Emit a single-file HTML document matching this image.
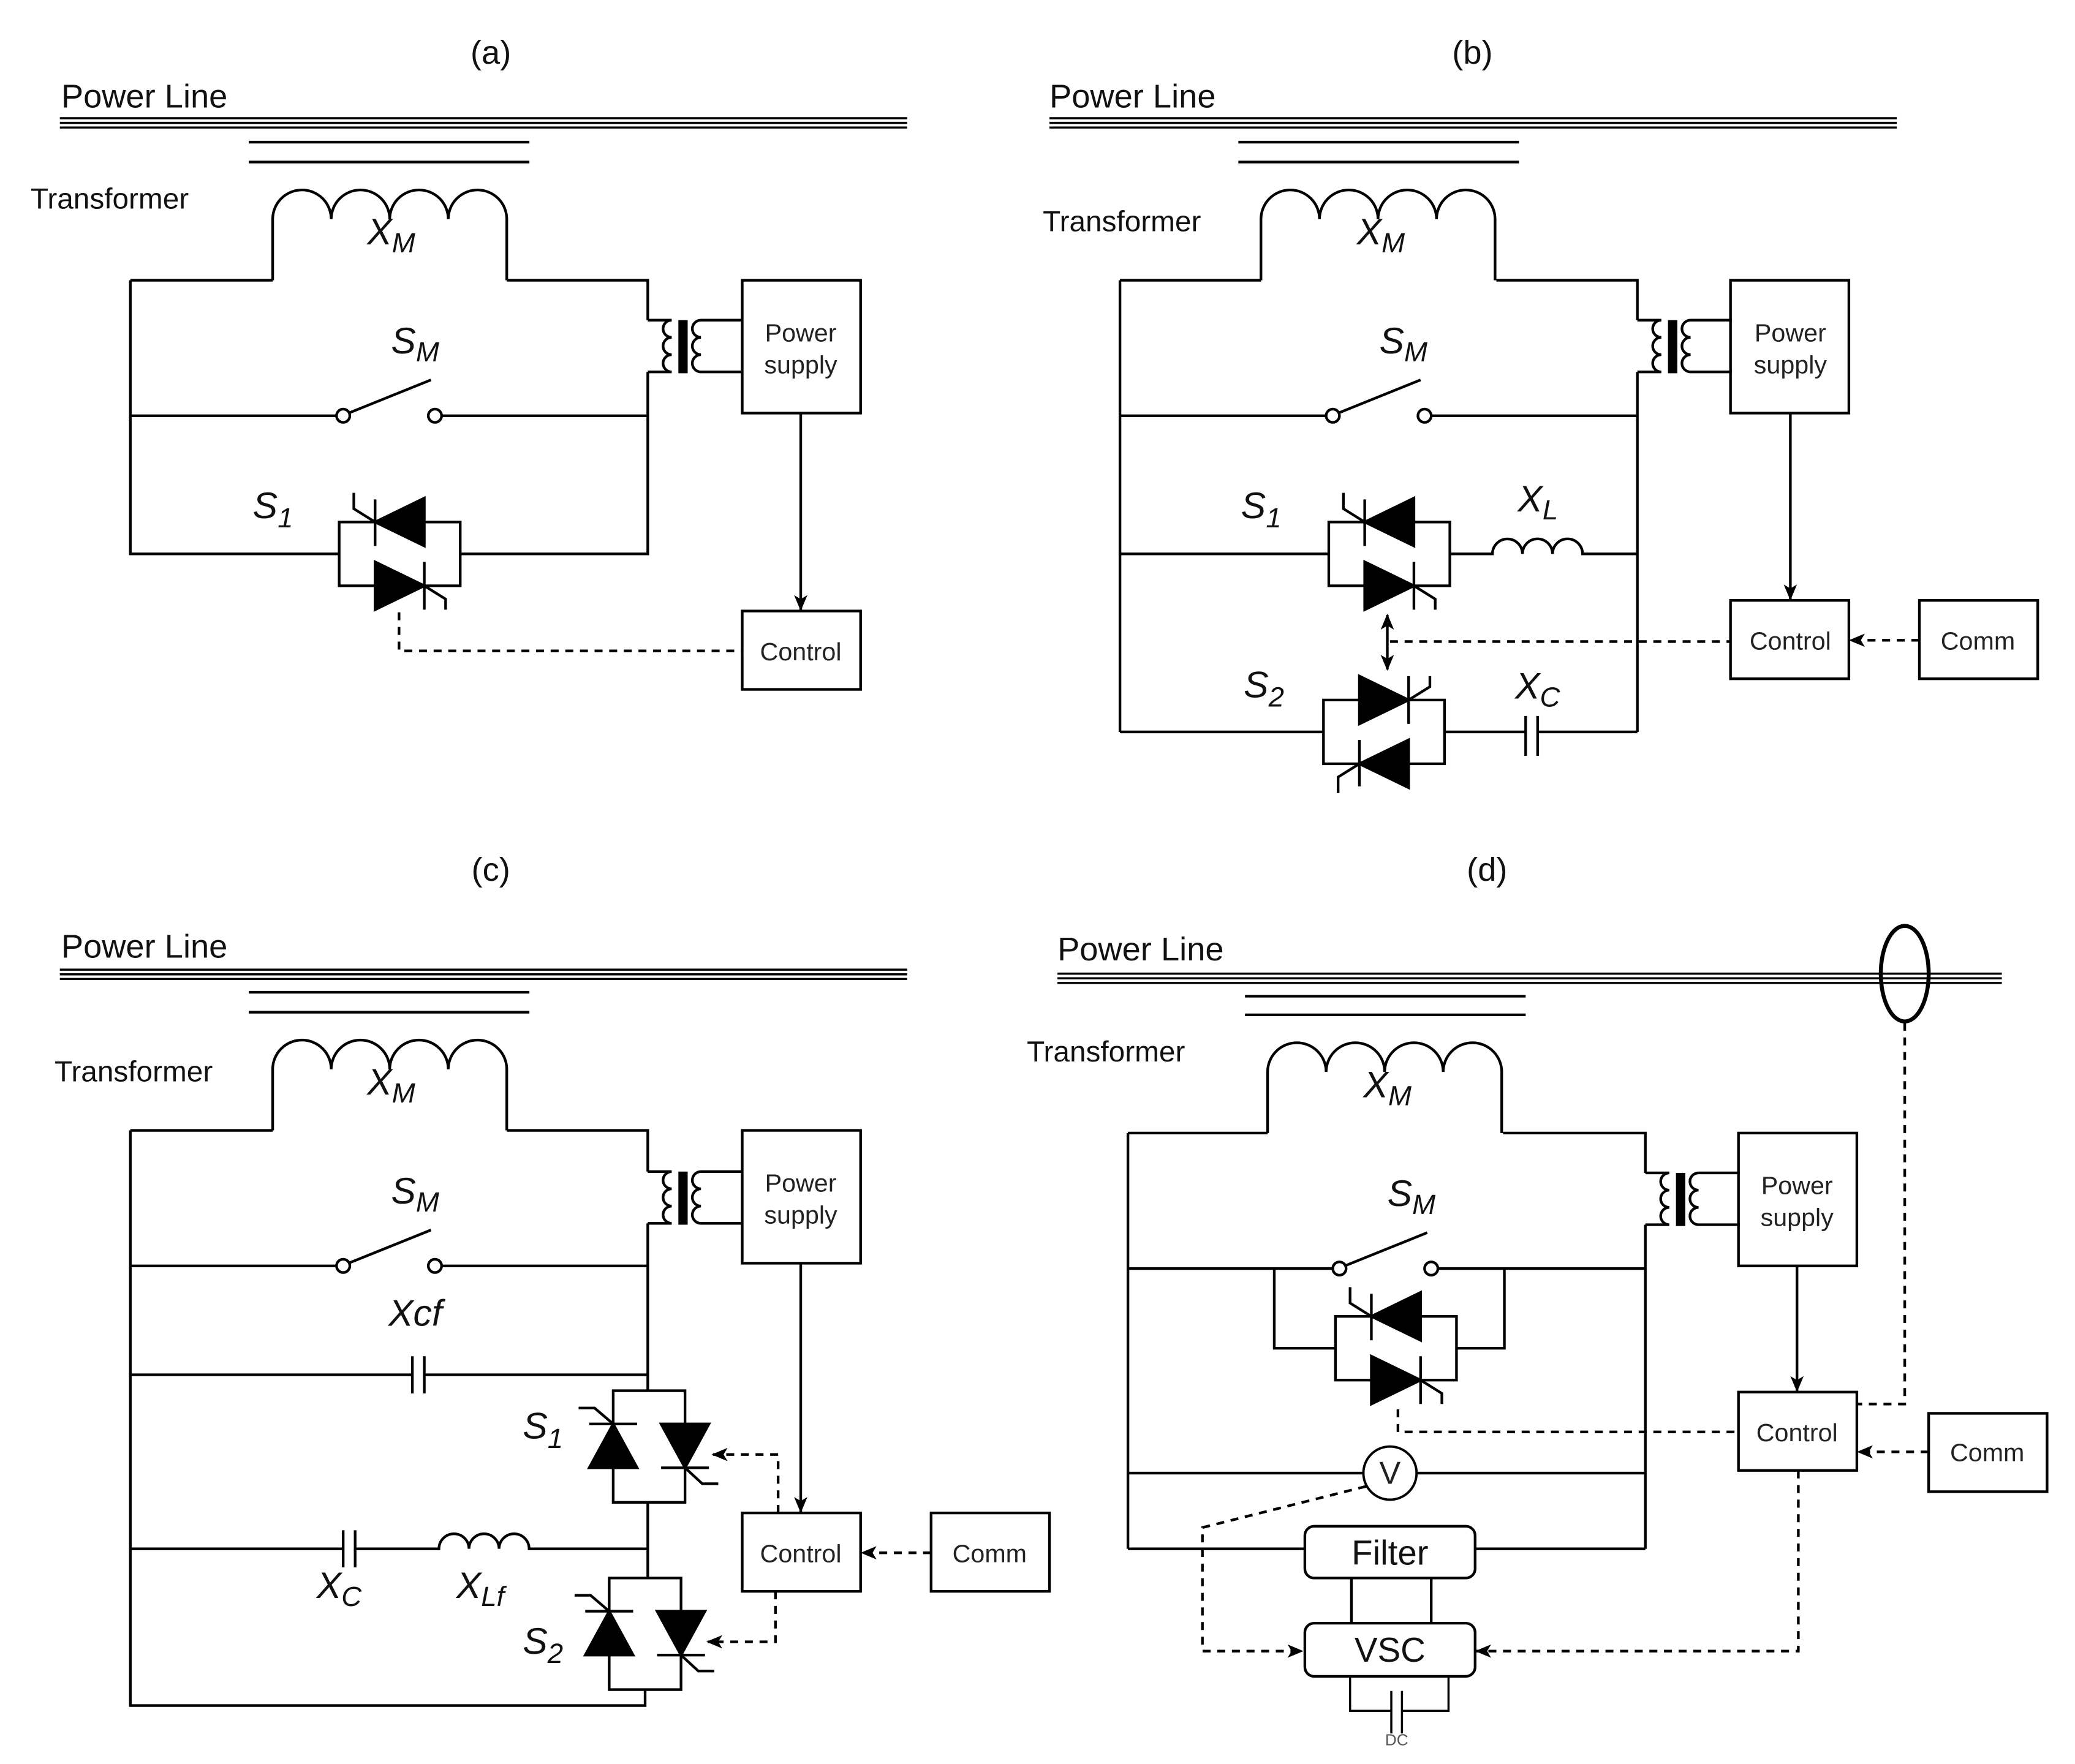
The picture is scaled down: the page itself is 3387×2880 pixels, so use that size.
<!DOCTYPE html>
<html><head><meta charset="utf-8">
<style>
html,body{margin:0;padding:0;background:#fff;}
svg{display:block;}
.lab{font-family:"Liberation Sans Narrow","Liberation Sans",sans-serif;fill:#111;}
.box{font-family:"Liberation Sans",sans-serif;fill:#222;font-size:19px;text-anchor:middle;}
.it{font-family:"Liberation Sans Narrow","Liberation Sans",sans-serif;font-style:italic;fill:#111;font-size:28px;}
</style></head>
<body>
<svg width="3387" height="2880" viewBox="0 0 1560 1328" preserveAspectRatio="none" xmlns="http://www.w3.org/2000/svg">
<defs>
<marker id="ah" markerWidth="12" markerHeight="10" refX="11" refY="5" orient="auto" markerUnits="userSpaceOnUse">
<path d="M0,0 L12,5 L0,10 L3,5 z" fill="#000"/>
</marker>
<marker id="ahs" markerWidth="12" markerHeight="10" refX="1" refY="5" orient="auto" markerUnits="userSpaceOnUse">
<path d="M12,0 L0,5 L12,10 L9,5 z" fill="#000"/>
</marker>
<g id="hpair">
<path d="M0,0 H91 V48 H0 Z" fill="none" stroke="#000" stroke-width="2"/>
<path d="M27,0 L64,-18 L64,18 Z" fill="#000"/>
<path d="M27,-17 V18 M27,0 L11,-10 V-22" fill="none" stroke="#000" stroke-width="2"/>
<path d="M27,30 L27,66 L64,48 Z" fill="#000"/>
<path d="M64,30 V66 M64,48 L80,58 V66" fill="none" stroke="#000" stroke-width="2"/>
</g>
<g id="vpair">
<path d="M0,0 H54 V84 H0 Z" fill="none" stroke="#000" stroke-width="2"/>
<path d="M-18,58 L18,58 L0,25 Z" fill="#000"/>
<path d="M-18,25 H18 M0,25 L-14,13 H-26" fill="none" stroke="#000" stroke-width="2"/>
<path d="M36,25 L72,25 L54,58 Z" fill="#000"/>
<path d="M36,58 H72 M54,58 L67,70 H79" fill="none" stroke="#000" stroke-width="2"/>
</g>
<g id="ct">
<path d="M0,0 H18 a6.5,6.5 0 0 0 0,13 a6.5,6.5 0 0 0 0,13 a6.5,6.5 0 0 0 0,13 H0" fill="none" stroke="#000" stroke-width="2"/>
<rect x="24" y="1" width="5" height="38" fill="#000"/>
<path d="M71,0 H40 a6.5,6.5 0 0 0 0,13 a6.5,6.5 0 0 0 0,13 a6.5,6.5 0 0 0 0,13 H71" fill="none" stroke="#000" stroke-width="2"/>
</g>
<g id="xm">
<path d="M0,68 V22 a22,22 0 0 1 44,0 a22,22 0 0 1 44,0 a22,22 0 0 1 44,0 a22,22 0 0 1 44,0 V68" fill="none" stroke="#000" stroke-width="2"/>
</g>
<g id="sw">
<circle cx="0" cy="0" r="5" fill="#fff" stroke="#000" stroke-width="2"/>
<circle cx="69" cy="0" r="5" fill="#fff" stroke="#000" stroke-width="2"/>
<path d="M4,-2 L66,-27" stroke="#000" stroke-width="2"/>
</g>
<g id="pl">
<path d="M0,0 H637 M0,3.5 H637 M0,7 H637" stroke="#000" stroke-width="1.6"/>
</g>
</defs>

<g fill="none" stroke="#000" stroke-width="2">
<!-- ===== (a) ===== -->
<use href="#pl" x="45" y="89"/>
<path d="M187,107 H398 M187,122 H398"/>
<use href="#xm" x="205" y="143"/>
<path d="M98,211 H205 M381,211 H487 V241 M487,280 V417 H346 M255,417 H98 V211"/>
<use href="#ct" x="487" y="241"/>
<rect x="558" y="211" width="89" height="100"/>
<rect x="558" y="460" width="89" height="59"/>
<path d="M602,311 V459" marker-end="url(#ah)"/>
<path d="M98,313 H253 M332,313 H487"/>
<use href="#sw" x="258" y="313"/>
<use href="#hpair" x="255" y="393"/>
<path d="M300,461 V490 H558" stroke-dasharray="6,5"/>

<!-- ===== (b) ===== -->
<use href="#pl" x="789" y="89"/>
<path d="M931,107 H1142 M931,122 H1142"/>
<use href="#xm" x="948" y="143"/>
<path d="M842,211 H948 M1125,211 H1231 V241 M1231,280 V551 M842,211 V551"/>
<use href="#ct" x="1231" y="241"/>
<rect x="1301" y="211" width="89" height="100"/>
<rect x="1301" y="452" width="89" height="59"/>
<rect x="1443" y="452" width="89" height="59"/>
<path d="M1346,311 V451" marker-end="url(#ah)"/>
<path d="M1443,482 H1391" stroke-dasharray="6,5" marker-end="url(#ah)"/>
<path d="M842,313 H997 M1076,313 H1231"/>
<use href="#sw" x="1002" y="313"/>
<use href="#hpair" x="999" y="393"/>
<path d="M842,417 H999 M1090,417 H1122 a11.3,11.3 0 0 1 22.6,0 a11.3,11.3 0 0 1 22.6,0 a11.3,11.3 0 0 1 22.6,0 H1231"/>
<use href="#hpair" transform="translate(995,575) scale(1,-1)"/>
<path d="M842,551 H995 M1086,551 H1147 M1156,551 H1231 M1147,539 V569 M1156,539 V569"/>
<path d="M1043,463 V504" marker-start="url(#ahs)" marker-end="url(#ah)"/>
<path d="M1045,483 H1301" stroke-dasharray="6,5"/>

<!-- ===== (c) ===== -->
<use href="#pl" x="45" y="730"/>
<path d="M187,747 H398 M187,762 H398"/>
<use href="#xm" x="205" y="783"/>
<path d="M98,851 H205 M381,851 H487 V882 M487,921 V1047 M98,851 V1284 H485 V1272"/>
<use href="#ct" x="487" y="882"/>
<rect x="558" y="851" width="89" height="100"/>
<rect x="558" y="1139" width="89" height="59"/>
<rect x="700" y="1139" width="89" height="59"/>
<path d="M602,951 V1138" marker-end="url(#ah)"/>
<path d="M700,1169 H648" stroke-dasharray="6,5" marker-end="url(#ah)"/>
<path d="M98,953 H253 M332,953 H487"/>
<use href="#sw" x="258" y="953"/>
<path d="M98,1035 H310 M319,1035 H487 M310,1021 V1049 M319,1021 V1049"/>
<use href="#vpair" x="461" y="1047"/>
<path d="M487,1131 V1188"/>
<use href="#vpair" x="458" y="1188"/>
<path d="M98,1166 H258 M267,1166 H330 a11.3,11.3 0 0 1 22.6,0 a11.3,11.3 0 0 1 22.6,0 a11.3,11.3 0 0 1 22.6,0 H487 M258,1152 V1180 M267,1152 V1180"/>
<path d="M585,1139 V1095 H536" stroke-dasharray="6,5" marker-end="url(#ah)"/>
<path d="M583,1198 V1236 H532" stroke-dasharray="6,5" marker-end="url(#ah)"/>

<!-- ===== (d) ===== -->
<path d="M795,733 H1505 M795,736.5 H1505 M795,740 H1505" stroke-width="1.6"/>
<ellipse cx="1432" cy="733" rx="18" ry="36" stroke-width="3"/>
<path d="M1432,770 V1057 H1396" stroke-dasharray="6,5"/>
<path d="M936,750 H1147 M936,764 H1147"/>
<use href="#xm" x="953" y="785"/>
<path d="M848,853 H953 M1130,853 H1237 V883 M1237,922 V1166 M848,853 V1166"/>
<use href="#ct" x="1237" y="883"/>
<rect x="1307" y="853" width="89" height="100"/>
<rect x="1307" y="1048" width="89" height="59"/>
<rect x="1450" y="1064" width="89" height="59"/>
<path d="M1351,953 V1047" marker-end="url(#ah)"/>
<path d="M1450,1093 H1397" stroke-dasharray="6,5" marker-end="url(#ah)"/>
<path d="M848,955 H1002 M1081,955 H1237"/>
<use href="#sw" x="1007" y="955"/>
<path d="M958,955 V1015 H1004 M1095,1015 H1131 V955"/>
<use href="#hpair" x="1004" y="991"/>
<path d="M1051,1061 V1078 H1307" stroke-dasharray="6,5"/>
<path d="M848,1109 H1025 M1065,1109 H1237"/>
<circle cx="1045" cy="1109" r="20" stroke-width="1.8"/>
<path d="M1027,1119 L904,1150 V1243 H979" stroke-dasharray="6,5" marker-end="url(#ah)"/>
<path d="M848,1166 H981 M1109,1166 H1237"/>
<rect x="981" y="1149" width="128" height="39" rx="7"/>
<path d="M1016,1188 V1222 M1076,1188 V1222"/>
<rect x="981" y="1222" width="128" height="40" rx="7"/>
<path d="M1352,1107 V1243 H1110" stroke-dasharray="6,5" marker-end="url(#ah)"/>
<path d="M1015,1262 V1288 H1046 M1054,1288 H1089 V1262 M1046,1273 V1305 M1054,1273 V1305" stroke-width="1.6"/>
</g>

<g class="lab">
<text x="369" y="48" font-size="25" text-anchor="middle">(a)</text>
<text x="1107" y="48" font-size="25" text-anchor="middle">(b)</text>
<text x="369" y="663" font-size="25" text-anchor="middle">(c)</text>
<text x="1118" y="663" font-size="25" text-anchor="middle">(d)</text>
<text x="46" y="81" font-size="25">Power Line</text>
<text x="789" y="81" font-size="25">Power Line</text>
<text x="46" y="721" font-size="25">Power Line</text>
<text x="795" y="723" font-size="25">Power Line</text>
<text x="23" y="157" font-size="22">Transformer</text>
<text x="784" y="174" font-size="22">Transformer</text>
<text x="41" y="814" font-size="22">Transformer</text>
<text x="772" y="799" font-size="22">Transformer</text>
</g>
<g class="it">
<text x="276" y="184">X<tspan font-size="21" dy="6">M</tspan></text>
<text x="1020" y="184">X<tspan font-size="21" dy="6">M</tspan></text>
<text x="276" y="824">X<tspan font-size="21" dy="6">M</tspan></text>
<text x="1025" y="826">X<tspan font-size="21" dy="6">M</tspan></text>
<text x="294" y="266">S<tspan font-size="21" dy="6">M</tspan></text>
<text x="1037" y="266">S<tspan font-size="21" dy="6">M</tspan></text>
<text x="294" y="906">S<tspan font-size="21" dy="6">M</tspan></text>
<text x="1043" y="908">S<tspan font-size="21" dy="6">M</tspan></text>
<text x="190" y="390">S<tspan font-size="21" dy="7">1</tspan></text>
<text x="933" y="390">S<tspan font-size="21" dy="7">1</tspan></text>
<text x="935" y="525">S<tspan font-size="21" dy="7">2</tspan></text>
<text x="1141" y="385">X<tspan font-size="21" dy="6">L</tspan></text>
<text x="1139" y="526">X<tspan font-size="21" dy="6">C</tspan></text>
<text x="292" y="998">Xcf</text>
<text x="393" y="1083">S<tspan font-size="21" dy="7">1</tspan></text>
<text x="393" y="1245">S<tspan font-size="21" dy="7">2</tspan></text>
<text x="238" y="1203">X<tspan font-size="21" dy="6">C</tspan></text>
<text x="343" y="1203">X<tspan font-size="21" dy="6">Lf</tspan></text>
</g>
<g class="box">
<text x="602" y="257">Power</text><text x="602" y="281">supply</text>
<text x="602" y="497">Control</text>
<text x="1346" y="257">Power</text><text x="1346" y="281">supply</text>
<text x="1346" y="489">Control</text>
<text x="1487" y="489">Comm</text>
<text x="602" y="897">Power</text><text x="602" y="921">supply</text>
<text x="602" y="1176">Control</text>
<text x="744" y="1176">Comm</text>
<text x="1351" y="899">Power</text><text x="1351" y="923">supply</text>
<text x="1351" y="1085">Control</text>
<text x="1494" y="1100">Comm</text>
<text x="1045" y="1117" font-size="24">V</text>
<text x="1045" y="1178" font-size="26" fill="#111">Filter</text>
<text x="1045" y="1251" font-size="26" fill="#111">VSC</text>
<text x="1050" y="1314" font-size="12" fill="#555">DC</text>
</g>
</svg>
</body></html>
